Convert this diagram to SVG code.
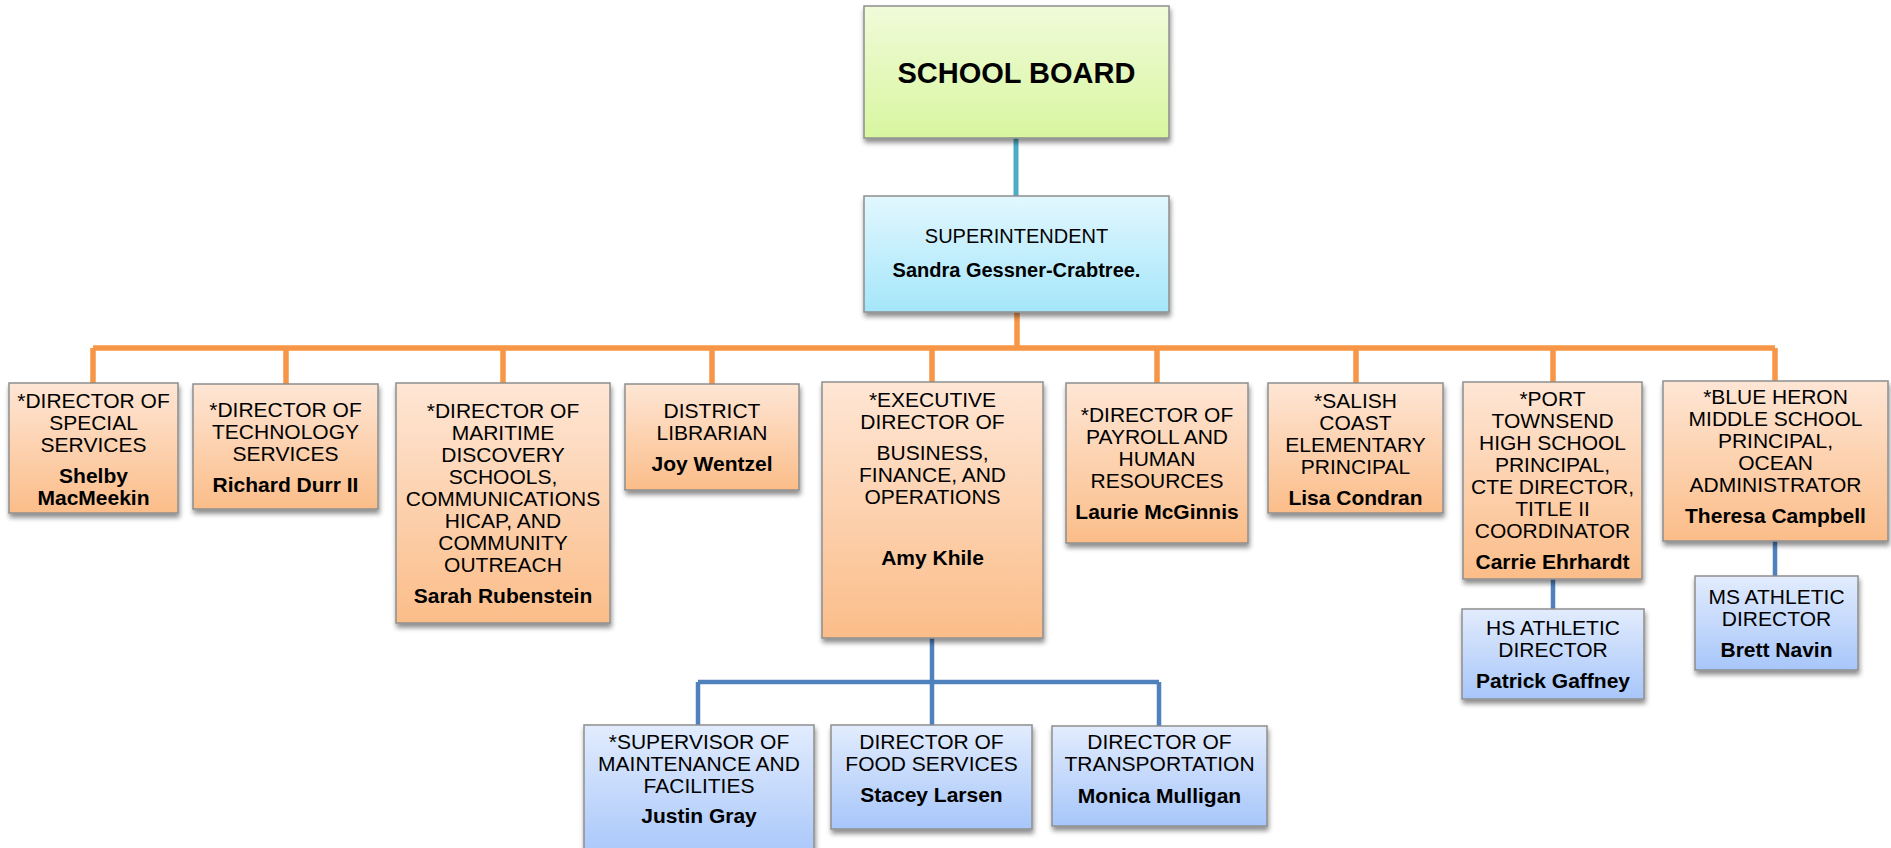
<svg xmlns="http://www.w3.org/2000/svg" width="1891" height="848" viewBox="0 0 1891 848">
<defs>
<linearGradient id="gOr" x1="0" y1="0" x2="0" y2="1"><stop offset="0" stop-color="#FEE6D5"/><stop offset="1" stop-color="#FBBD89"/></linearGradient>
<linearGradient id="gBl" x1="0" y1="0" x2="0" y2="1"><stop offset="0" stop-color="#E2ECFD"/><stop offset="1" stop-color="#A7C6FA"/></linearGradient>
<linearGradient id="gGr" x1="0" y1="0" x2="0" y2="1"><stop offset="0" stop-color="#F0FBD9"/><stop offset="1" stop-color="#D8F6A0"/></linearGradient>
<linearGradient id="gCy" x1="0" y1="0" x2="0" y2="1"><stop offset="0" stop-color="#E2F7FE"/><stop offset="1" stop-color="#A5E6FA"/></linearGradient>
<filter id="sh" x="-10%" y="-10%" width="120%" height="130%"><feGaussianBlur in="SourceAlpha" stdDeviation="2.5"/><feOffset dx="1" dy="4"/><feComponentTransfer><feFuncA type="linear" slope="0.45"/></feComponentTransfer><feMerge><feMergeNode/><feMergeNode in="SourceGraphic"/></feMerge></filter>
</defs>
<style>
.box{stroke:#8E8E8E;stroke-width:1.5;filter:url(#sh)}
.or{fill:url(#gOr)}
.bl{fill:url(#gBl)}
text{font-family:"Liberation Sans",Arial,sans-serif;font-size:21px;fill:#000;text-anchor:middle}
.b{font-weight:bold}
.lo{stroke:#F79646;stroke-width:5.5;fill:none}
.lb{stroke:#4F81BD;stroke-width:4.5;fill:none}
.lt{stroke:#4BACC6;stroke-width:5;fill:none}
</style>
<rect width="1891" height="848" fill="#fff"/>
<g id="connectors">
<path class="lt" d="M1016 138V196"/>
<path class="lo" d="M1017 312V348M93 348H1775M93 348V383M286 348V384M503 348V383M712 348V384M932 348V382M1157 348V383M1356 348V383M1553 348V382M1775 348V381"/>
<path class="lb" d="M932 638V682M698 682H1159M698 682V725M932 682V725M1159 682V726M1553 579V609M1775 541V576"/>
</g>
<g id="school-board">
<rect class="box" x="864" y="6" width="305" height="132" fill="url(#gGr)"/>
<text x="1016.5" y="83" class="b" style="font-size:29px">SCHOOL BOARD</text>
</g>
<g id="superintendent">
<rect class="box" x="864" y="196" width="305" height="116" fill="url(#gCy)"/>
<text x="1016.5" y="243" style="font-size:20px">SUPERINTENDENT</text>
<text x="1016.5" y="277" class="b" style="font-size:20px">Sandra Gessner-Crabtree.</text>
</g>
<g id="special-services">
<rect class="box or" x="9" y="383" width="169" height="130"/>
<text x="93.5" y="408">*DIRECTOR OF</text><text x="93.5" y="430">SPECIAL</text><text x="93.5" y="452">SERVICES</text>
<text x="93.5" y="483" class="b">Shelby</text><text x="93.5" y="505" class="b">MacMeekin</text>
</g>
<g id="technology">
<rect class="box or" x="193" y="384" width="185" height="125"/>
<text x="285.5" y="417">*DIRECTOR OF</text><text x="285.5" y="439">TECHNOLOGY</text><text x="285.5" y="461">SERVICES</text>
<text x="285.5" y="492" class="b">Richard Durr II</text>
</g>
<g id="maritime">
<rect class="box or" x="396" y="383" width="214" height="240"/>
<text x="503" y="418">*DIRECTOR OF</text><text x="503" y="440">MARITIME</text><text x="503" y="462">DISCOVERY</text><text x="503" y="484">SCHOOLS,</text><text x="503" y="506">COMMUNICATIONS</text><text x="503" y="528">HICAP, AND</text><text x="503" y="550">COMMUNITY</text><text x="503" y="572">OUTREACH</text>
<text x="503" y="603" class="b">Sarah Rubenstein</text>
</g>
<g id="librarian">
<rect class="box or" x="625" y="384" width="174" height="106"/>
<text x="712" y="418">DISTRICT</text><text x="712" y="440">LIBRARIAN</text>
<text x="712" y="471" class="b">Joy Wentzel</text>
</g>
<g id="executive">
<rect class="box or" x="822" y="382" width="221" height="256"/>
<text x="932.5" y="407">*EXECUTIVE</text><text x="932.5" y="429">DIRECTOR OF</text><text x="932.5" y="460">BUSINESS,</text><text x="932.5" y="482">FINANCE, AND</text><text x="932.5" y="504">OPERATIONS</text>
<text x="932.5" y="565" class="b">Amy Khile</text>
</g>
<g id="payroll">
<rect class="box or" x="1066" y="383" width="182" height="160"/>
<text x="1157" y="422">*DIRECTOR OF</text><text x="1157" y="444">PAYROLL AND</text><text x="1157" y="466">HUMAN</text><text x="1157" y="488">RESOURCES</text>
<text x="1157" y="519" class="b">Laurie McGinnis</text>
</g>
<g id="salish">
<rect class="box or" x="1268" y="383" width="175" height="130"/>
<text x="1355.5" y="408">*SALISH</text><text x="1355.5" y="430">COAST</text><text x="1355.5" y="452">ELEMENTARY</text><text x="1355.5" y="474">PRINCIPAL</text>
<text x="1355.5" y="505" class="b">Lisa Condran</text>
</g>
<g id="port-townsend">
<rect class="box or" x="1463" y="382" width="179" height="197"/>
<text x="1552.5" y="406">*PORT</text><text x="1552.5" y="428">TOWNSEND</text><text x="1552.5" y="450">HIGH SCHOOL</text><text x="1552.5" y="472">PRINCIPAL,</text><text x="1552.5" y="494">CTE DIRECTOR,</text><text x="1552.5" y="516">TITLE II</text><text x="1552.5" y="538">COORDINATOR</text>
<text x="1552.5" y="569" class="b">Carrie Ehrhardt</text>
</g>
<g id="blue-heron">
<rect class="box or" x="1663" y="381" width="225" height="160"/>
<text x="1775.5" y="404">*BLUE HERON</text><text x="1775.5" y="426">MIDDLE SCHOOL</text><text x="1775.5" y="448">PRINCIPAL,</text><text x="1775.5" y="470">OCEAN</text><text x="1775.5" y="492">ADMINISTRATOR</text>
<text x="1775.5" y="523" class="b">Theresa Campbell</text>
</g>
<g id="hs-athletic">
<rect class="box bl" x="1462" y="609" width="182" height="90"/>
<text x="1553" y="635">HS ATHLETIC</text><text x="1553" y="657">DIRECTOR</text>
<text x="1553" y="688" class="b">Patrick Gaffney</text>
</g>
<g id="ms-athletic">
<rect class="box bl" x="1695" y="576" width="163" height="94"/>
<text x="1776.5" y="604">MS ATHLETIC</text><text x="1776.5" y="626">DIRECTOR</text>
<text x="1776.5" y="657" class="b">Brett Navin</text>
</g>
<g id="maintenance">
<rect class="box bl" x="584" y="725" width="230" height="135"/>
<text x="699" y="749">*SUPERVISOR OF</text><text x="699" y="771">MAINTENANCE AND</text><text x="699" y="793">FACILITIES</text>
<text x="699" y="823" class="b">Justin Gray</text>
</g>
<g id="food">
<rect class="box bl" x="831" y="725" width="201" height="104"/>
<text x="931.5" y="749">DIRECTOR OF</text><text x="931.5" y="771">FOOD SERVICES</text>
<text x="931.5" y="802" class="b">Stacey Larsen</text>
</g>
<g id="transportation">
<rect class="box bl" x="1052" y="726" width="215" height="100"/>
<text x="1159.5" y="749">DIRECTOR OF</text><text x="1159.5" y="771">TRANSPORTATION</text>
<text x="1159.5" y="803" class="b">Monica Mulligan</text>
</g>
</svg>
